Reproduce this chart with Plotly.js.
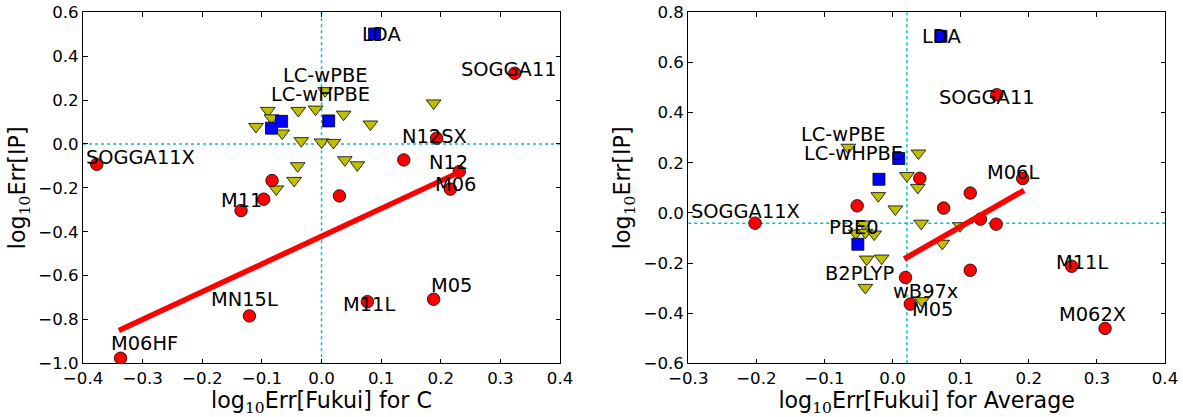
<!DOCTYPE html>
<html>
<head>
<meta charset="utf-8">
<script src="https://cdn.plot.ly/plotly-3.0.1.min.js"></script>
<style>html,body{margin:0;padding:0;background:#fff;}#chart{width:1183px;height:417px;}</style>
</head>
<body>
<div id="chart"></div>
<script>
// ---------- Left panel: log10 Err[Fukui] for C vs log10 Err[IP] ----------
const circlesL_x = [-0.377, 0.324, 0.193, 0.138, 0.231, 0.216, 0.030, 0.077, 0.188, -0.083, -0.097, -0.135, -0.121, -0.337];
const circlesL_y = [-0.093, 0.322, 0.026, -0.073, -0.126, -0.206, -0.237, -0.719, -0.708, -0.167, -0.252, -0.304, -0.784, -0.977];
const squaresL_x = [0.089, -0.084, -0.067, 0.012];
const squaresL_y = [0.501, 0.072, 0.103, 0.105];
const trianglesL_x = [-0.090, -0.084, -0.110, -0.066, -0.039, -0.010, 0.006, 0.037, 0.082, 0.188, -0.034, 0.000, 0.020, 0.039, 0.060, -0.040, -0.046, -0.076];
const trianglesL_y = [0.152, 0.118, 0.079, 0.049, 0.152, 0.158, 0.242, 0.135, 0.090, 0.186, 0.014, 0.008, 0.006, -0.073, -0.096, -0.100, -0.167, -0.206];
const fitL_x = [-0.340, 0.235];
const fitL_y = [-0.851, -0.124];
const refL_x = 0.0;
const refL_y = 0.0;

// ---------- Right panel: log10 Err[Fukui] for Average vs log10 Err[IP] ----------
const circlesR_x = [0.153, 0.191, 0.114, 0.040, -0.052, 0.075, 0.129, 0.152, 0.114, 0.019, 0.026, -0.202, 0.263, 0.312];
const circlesR_y = [0.471, 0.137, 0.079, 0.138, 0.028, 0.019, -0.025, -0.045, -0.229, -0.258, -0.364, -0.041, -0.213, -0.461];
const squaresR_x = [0.071, 0.009, -0.020, -0.051];
const squaresR_y = [0.704, 0.217, 0.134, -0.125];
const trianglesR_x = [-0.065, 0.038, 0.021, 0.037, -0.021, 0.004, 0.042, 0.099, 0.073, -0.042, -0.054, -0.040, -0.027, -0.038, -0.016, -0.040, 0.043];
const trianglesR_y = [0.261, 0.238, 0.148, 0.101, 0.068, 0.015, -0.042, -0.052, -0.122, -0.045, -0.081, -0.078, -0.085, -0.185, -0.181, -0.298, -0.351];
const fitR_x = [0.017, 0.193];
const fitR_y = [-0.184, 0.090];
const refR_x = 0.021;
const refR_y = -0.041;

// ---------- Point labels (text, series, index into series) ----------
const labelsL_text   = ['LDA', 'SOGGA11', 'SOGGA11X', 'N12SX', 'N12', 'M06', 'M11L', 'M05', 'M11', 'MN15L', 'M06HF', 'LC-wPBE', 'LC-wHPBE'];
const labelsL_series = ['sq', 'ci', 'ci', 'ci', 'ci', 'ci', 'ci', 'ci', 'ci', 'ci', 'ci', 'tr', 'tr'];
const labelsL_index  = [0, 1, 0, 2, 4, 5, 7, 8, 11, 12, 13, 6, 5];
const labelsR_text   = ['LDA', 'SOGGA11', 'M06L', 'SOGGA11X', 'M11L', 'M062X', 'wB97x', 'M05', 'B2PLYP', 'PBE0', 'LC-wPBE', 'LC-wHPBE'];
const labelsR_series = ['sq', 'ci', 'ci', 'ci', 'ci', 'ci', 'ci', 'ci', 'tr', 'tr', 'tr', 'sq'];
const labelsR_index  = [0, 0, 1, 11, 12, 13, 9, 10, 15, 9, 0, 1];

// tick values
const xticksL = [-0.4, -0.3, -0.2, -0.1, 0.0, 0.1, 0.2, 0.3, 0.4];
const yticksL = [-1.0, -0.8, -0.6, -0.4, -0.2, 0.0, 0.2, 0.4, 0.6];
const xticksR = [-0.3, -0.2, -0.1, 0.0, 0.1, 0.2, 0.3, 0.4];
const yticksR = [-0.6, -0.4, -0.2, 0.0, 0.2, 0.4, 0.6, 0.8];

// ---------- styling (layout only) ----------
const labelOffsetsL = [[7,0],[-6,-4],[44,-7],[-2,-2],[-11,-9],[5,-5],[2,3],[18,-14],[0,-10],[-5,-16],[24,-15],[0,-15],[5,-15]];
const labelOffsetsR = [[1,0],[-10,3],[-10,-6],[-10,-12],[10,-4],[-13,-14],[20,14],[22,5],[-6,-14],[-10,3],[-5,-13],[-45,-5]];

const FONT = 'DejaVu Sans, Bitstream Vera Sans, sans-serif';
const CYAN = '#00BFBF';
const OLIVE = '#BFBF00';

function panelTraces(xa, ya, cx, cy, sx, sy, tx, ty, fx, fy, rx, ry, range) {
  return [
    {x: [rx, rx], y: range.y, xaxis: xa, yaxis: ya, mode: 'lines', hoverinfo: 'skip',
     line: {color: CYAN, width: 1.5, dash: 'dot'}},
    {x: range.x, y: [ry, ry], xaxis: xa, yaxis: ya, mode: 'lines', hoverinfo: 'skip',
     line: {color: CYAN, width: 1.5, dash: 'dot'}},
    {x: tx, y: ty, xaxis: xa, yaxis: ya, mode: 'markers', type: 'scatter',
     marker: {symbol: 'triangle-down', size: 12.8, color: OLIVE, line: {color: '#000', width: 0.8}}},
    {x: sx, y: sy, xaxis: xa, yaxis: ya, mode: 'markers', type: 'scatter',
     marker: {symbol: 'square', size: 12, color: '#0000FF', line: {color: '#000', width: 0.8}}},
    {x: cx, y: cy, xaxis: xa, yaxis: ya, mode: 'markers', type: 'scatter',
     marker: {symbol: 'circle', size: 12.5, color: '#FF0000', line: {color: '#000', width: 0.8}}},
    {x: fx, y: fy, xaxis: xa, yaxis: ya, mode: 'lines', type: 'scatter',
     line: {color: '#FF0000', width: 5.5}}
  ];
}

const rangeL = {x: [-0.4, 0.4], y: [-1.0, 0.6]};
const rangeR = {x: [-0.3, 0.4], y: [-0.6, 0.8]};

const data = [].concat(
  panelTraces('x', 'y', circlesL_x, circlesL_y, squaresL_x, squaresL_y, trianglesL_x, trianglesL_y, fitL_x, fitL_y, refL_x, refL_y, rangeL),
  panelTraces('x2', 'y2', circlesR_x, circlesR_y, squaresR_x, squaresR_y, trianglesR_x, trianglesR_y, fitR_x, fitR_y, refR_x, refR_y, rangeR)
);

function buildLabels(texts, series, idx, offs, src, xref, yref) {
  return texts.map((t, k) => {
    const s = src[series[k]];
    return {
      text: t, x: s[0][idx[k]], y: s[1][idx[k]], xref: xref, yref: yref,
      showarrow: false, xanchor: 'center', yanchor: 'middle',
      xshift: offs[k][0], yshift: -offs[k][1],
      font: {family: FONT, size: 19.4, color: '#000'}
    };
  });
}

const srcL = {ci: [circlesL_x, circlesL_y], sq: [squaresL_x, squaresL_y], tr: [trianglesL_x, trianglesL_y]};
const srcR = {ci: [circlesR_x, circlesR_y], sq: [squaresR_x, squaresR_y], tr: [trianglesR_x, trianglesR_y]};

const annotations = [].concat(
  buildLabels(labelsL_text, labelsL_series, labelsL_index, labelOffsetsL, srcL, 'x', 'y'),
  buildLabels(labelsR_text, labelsR_series, labelsR_index, labelOffsetsR, srcR, 'x2', 'y2')
);

const SUB = '<sub><span style="font-family:DejaVu Serif">10</span></sub>';

function axis(extra) {
  return Object.assign({
    showgrid: false, zeroline: false, showline: true, linecolor: '#000', linewidth: 1,
    mirror: 'ticks', ticks: 'inside', ticklen: 4.5, tickwidth: 1, tickcolor: '#000',
    tickfont: {family: FONT, size: 16.67, color: '#000'}, tickformat: '.1f',
    tickmode: 'array', fixedrange: true
  }, extra);
}

const layout = {
  width: 1183, height: 417,
  margin: {l: 0, r: 0, t: 0, b: 0},
  paper_bgcolor: '#fff', plot_bgcolor: '#fff',
  showlegend: false,
  font: {family: FONT, color: '#000'},
  xaxis: axis({domain: [0.0702, 0.4734], range: rangeL.x, tickvals: xticksL, anchor: 'y',
    title: {text: 'log' + SUB + 'Err[Fukui] for C', font: {family: FONT, size: 22.2}, standoff: 8}}),
  yaxis: axis({domain: [0.1288, 0.9705], range: rangeL.y, tickvals: yticksL, anchor: 'x',
    title: {text: 'log' + SUB + 'Err[IP]', font: {family: FONT, size: 22.2}, standoff: 6}}),
  xaxis2: axis({domain: [0.5818, 0.9848], range: rangeR.x, tickvals: xticksR, anchor: 'y2',
    title: {text: 'log' + SUB + 'Err[Fukui] for Average', font: {family: FONT, size: 22.2}, standoff: 8}}),
  yaxis2: axis({domain: [0.1288, 0.9705], range: rangeR.y, tickvals: yticksR, anchor: 'x2',
    title: {text: 'log' + SUB + 'Err[IP]', font: {family: FONT, size: 22.2}, standoff: 6}}),
  annotations: annotations
};

Plotly.newPlot('chart', data, layout, {staticPlot: true, displayModeBar: false});
</script>
</body>
</html>
